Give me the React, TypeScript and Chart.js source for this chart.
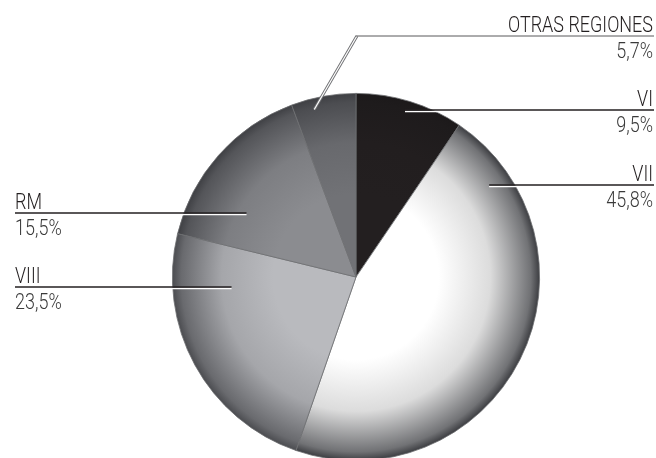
import React, { useEffect, useRef } from "react";
import { Chart, registerables } from "chart.js";

Chart.register(...registerables);

const categories = ["VI", "VII", "VIII", "RM", "OTRAS REGIONES"];
const values = [9.5, 45.8, 23.5, 15.5, 5.7];
const valueLabels = ["9,5%", "45,8%", "23,5%", "15,5%", "5,7%"];
const baseColors = ["#231f20", "#ffffff", "#b9babe", "#8b8c90", "#717276"];
const edgeColors = ["#1c191a", "#3a3b3f", "#4a4b4f", "#3e3f43", "#3e3f43"];

// label layout: side, line y, anchor angle (deg from top, clockwise), anchor radius fraction
const labelSide = ["right", "right", "left", "left", "right"];
const labelLineY = [110, 185, 287, 213, 36];
const anchorAngle = [16.4, 55.5, 265.4, 300.2, 346];
const anchorRadius = [0.945, 0.88, 0.68, 0.69, 0.94];

function hexToRgb(h: string) {
  const n = parseInt(h.slice(1), 16);
  return [(n >> 16) & 255, (n >> 8) & 255, n & 255];
}
function mix(a: string, b: string, t: number) {
  const A = hexToRgb(a), B = hexToRgb(b);
  const c = A.map((v, i) => Math.round(v + (B[i] - v) * t));
  return `rgb(${c[0]},${c[1]},${c[2]})`;
}

const FONT = "300 22px Roboto, 'Liberation Sans', Arial, sans-serif";

const labelPlugin = {
  id: "leaderLabels",
  afterDraw(chart: any) {
    const meta = chart.getDatasetMeta(0);
    const el = meta.data[0];
    if (!el) return;
    const cx = el.x, cy = el.y, R = el.outerRadius;
    const ctx = chart.ctx;
    ctx.save();
    ctx.font = FONT;
    const sx = 145 / ctx.measureText("OTRAS REGIONES").width;
    const rightX = 654;
    const leftX = 15;
    categories.forEach((name, i) => {
      const a = (anchorAngle[i] * Math.PI) / 180;
      const ax = cx + R * anchorRadius[i] * Math.sin(a);
      const ay = cy - R * anchorRadius[i] * Math.cos(a);
      const ly = labelLineY[i];
      const side = labelSide[i];
      if (side === "right" && Math.abs(ay - ly) > 3) {
        const kx = ax + (ay - ly) * 0.58;
        ctx.beginPath();
        ctx.moveTo(ax, ay);
        ctx.lineTo(kx, ly);
        ctx.lineWidth = 3;
        ctx.strokeStyle = "#6d6e71";
        ctx.stroke();
        ctx.lineWidth = 1.2;
        ctx.strokeStyle = "#ffffff";
        ctx.stroke();
        ctx.beginPath();
        ctx.moveTo(kx - 1, ly);
        ctx.lineTo(rightX, ly);
        ctx.lineWidth = 1;
        ctx.strokeStyle = "#58595b";
        ctx.stroke();
      } else {
        const x0 = side === "right" ? ax : leftX;
        const x1 = side === "right" ? rightX : ax;
        ctx.beginPath();
        ctx.moveTo(x0, ly + 1.5);
        ctx.lineTo(x1, ly + 1.5);
        ctx.lineWidth = 1.4;
        ctx.strokeStyle = "#ffffff";
        ctx.stroke();
        ctx.beginPath();
        ctx.moveTo(x0, ly);
        ctx.lineTo(x1, ly);
        ctx.lineWidth = 1.5;
        ctx.strokeStyle = "#231f20";
        ctx.stroke();
      }
      const tx = side === "right" ? 653 : 15;
      ctx.save();
      ctx.translate(tx, 0);
      ctx.scale(sx, 1);
      ctx.font = FONT;
      ctx.textBaseline = "alphabetic";
      ctx.textAlign = side === "right" ? "right" : "left";
      ctx.fillStyle = "#231f20";
      ctx.fillText(name, 0, ly - 4);
      ctx.fillStyle = "#3a3a3a";
      ctx.fillText(valueLabels[i], 0, ly + 22);
      ctx.restore();
    });
    ctx.restore();
  },
};

export default function App() {
  const ref = useRef<HTMLCanvasElement>(null);
  useEffect(() => {
    if (!ref.current) return;
    const chart = new Chart(ref.current, {
      type: "pie",
      data: {
        labels: categories,
        datasets: [
          {
            data: values,
            borderWidth: 0.8,
            borderColor: "#6d6e71",
            backgroundColor: (c: any) => {
              const i = c.dataIndex;
              const area = c.chart.chartArea;
              if (!area) return baseColors[i];
              const cx = (area.left + area.right) / 2;
              const cy = (area.top + area.bottom) / 2;
              const r = Math.min(area.right - area.left, area.bottom - area.top) / 2;
              const g = c.chart.ctx.createRadialGradient(cx, cy, 0, cx, cy, r);
              const b = baseColors[i], e = edgeColors[i];
              g.addColorStop(0, b);
              g.addColorStop(0.45, b);
              g.addColorStop(0.73, mix(b, e, 0.18));
              g.addColorStop(0.95, mix(b, e, 0.72));
              g.addColorStop(1, e);
              return g;
            },
          },
        ],
      },
      options: {
        animation: false,
        responsive: false,
        layout: { padding: { left: 172, right: 116, top: 93, bottom: 93 } },
        plugins: { legend: { display: false }, tooltip: { enabled: false } },
      },
      plugins: [labelPlugin],
    });
    return () => chart.destroy();
  }, []);
  return (
    <div
      style={{
        position: "fixed",
        left: 0,
        top: 0,
        width: 656,
        height: 458,
        overflow: "hidden",
        background: "#ffffff",
      }}
    >
      <canvas ref={ref} width={656} height={554} style={{ display: "block" }} />
    </div>
  );
}
